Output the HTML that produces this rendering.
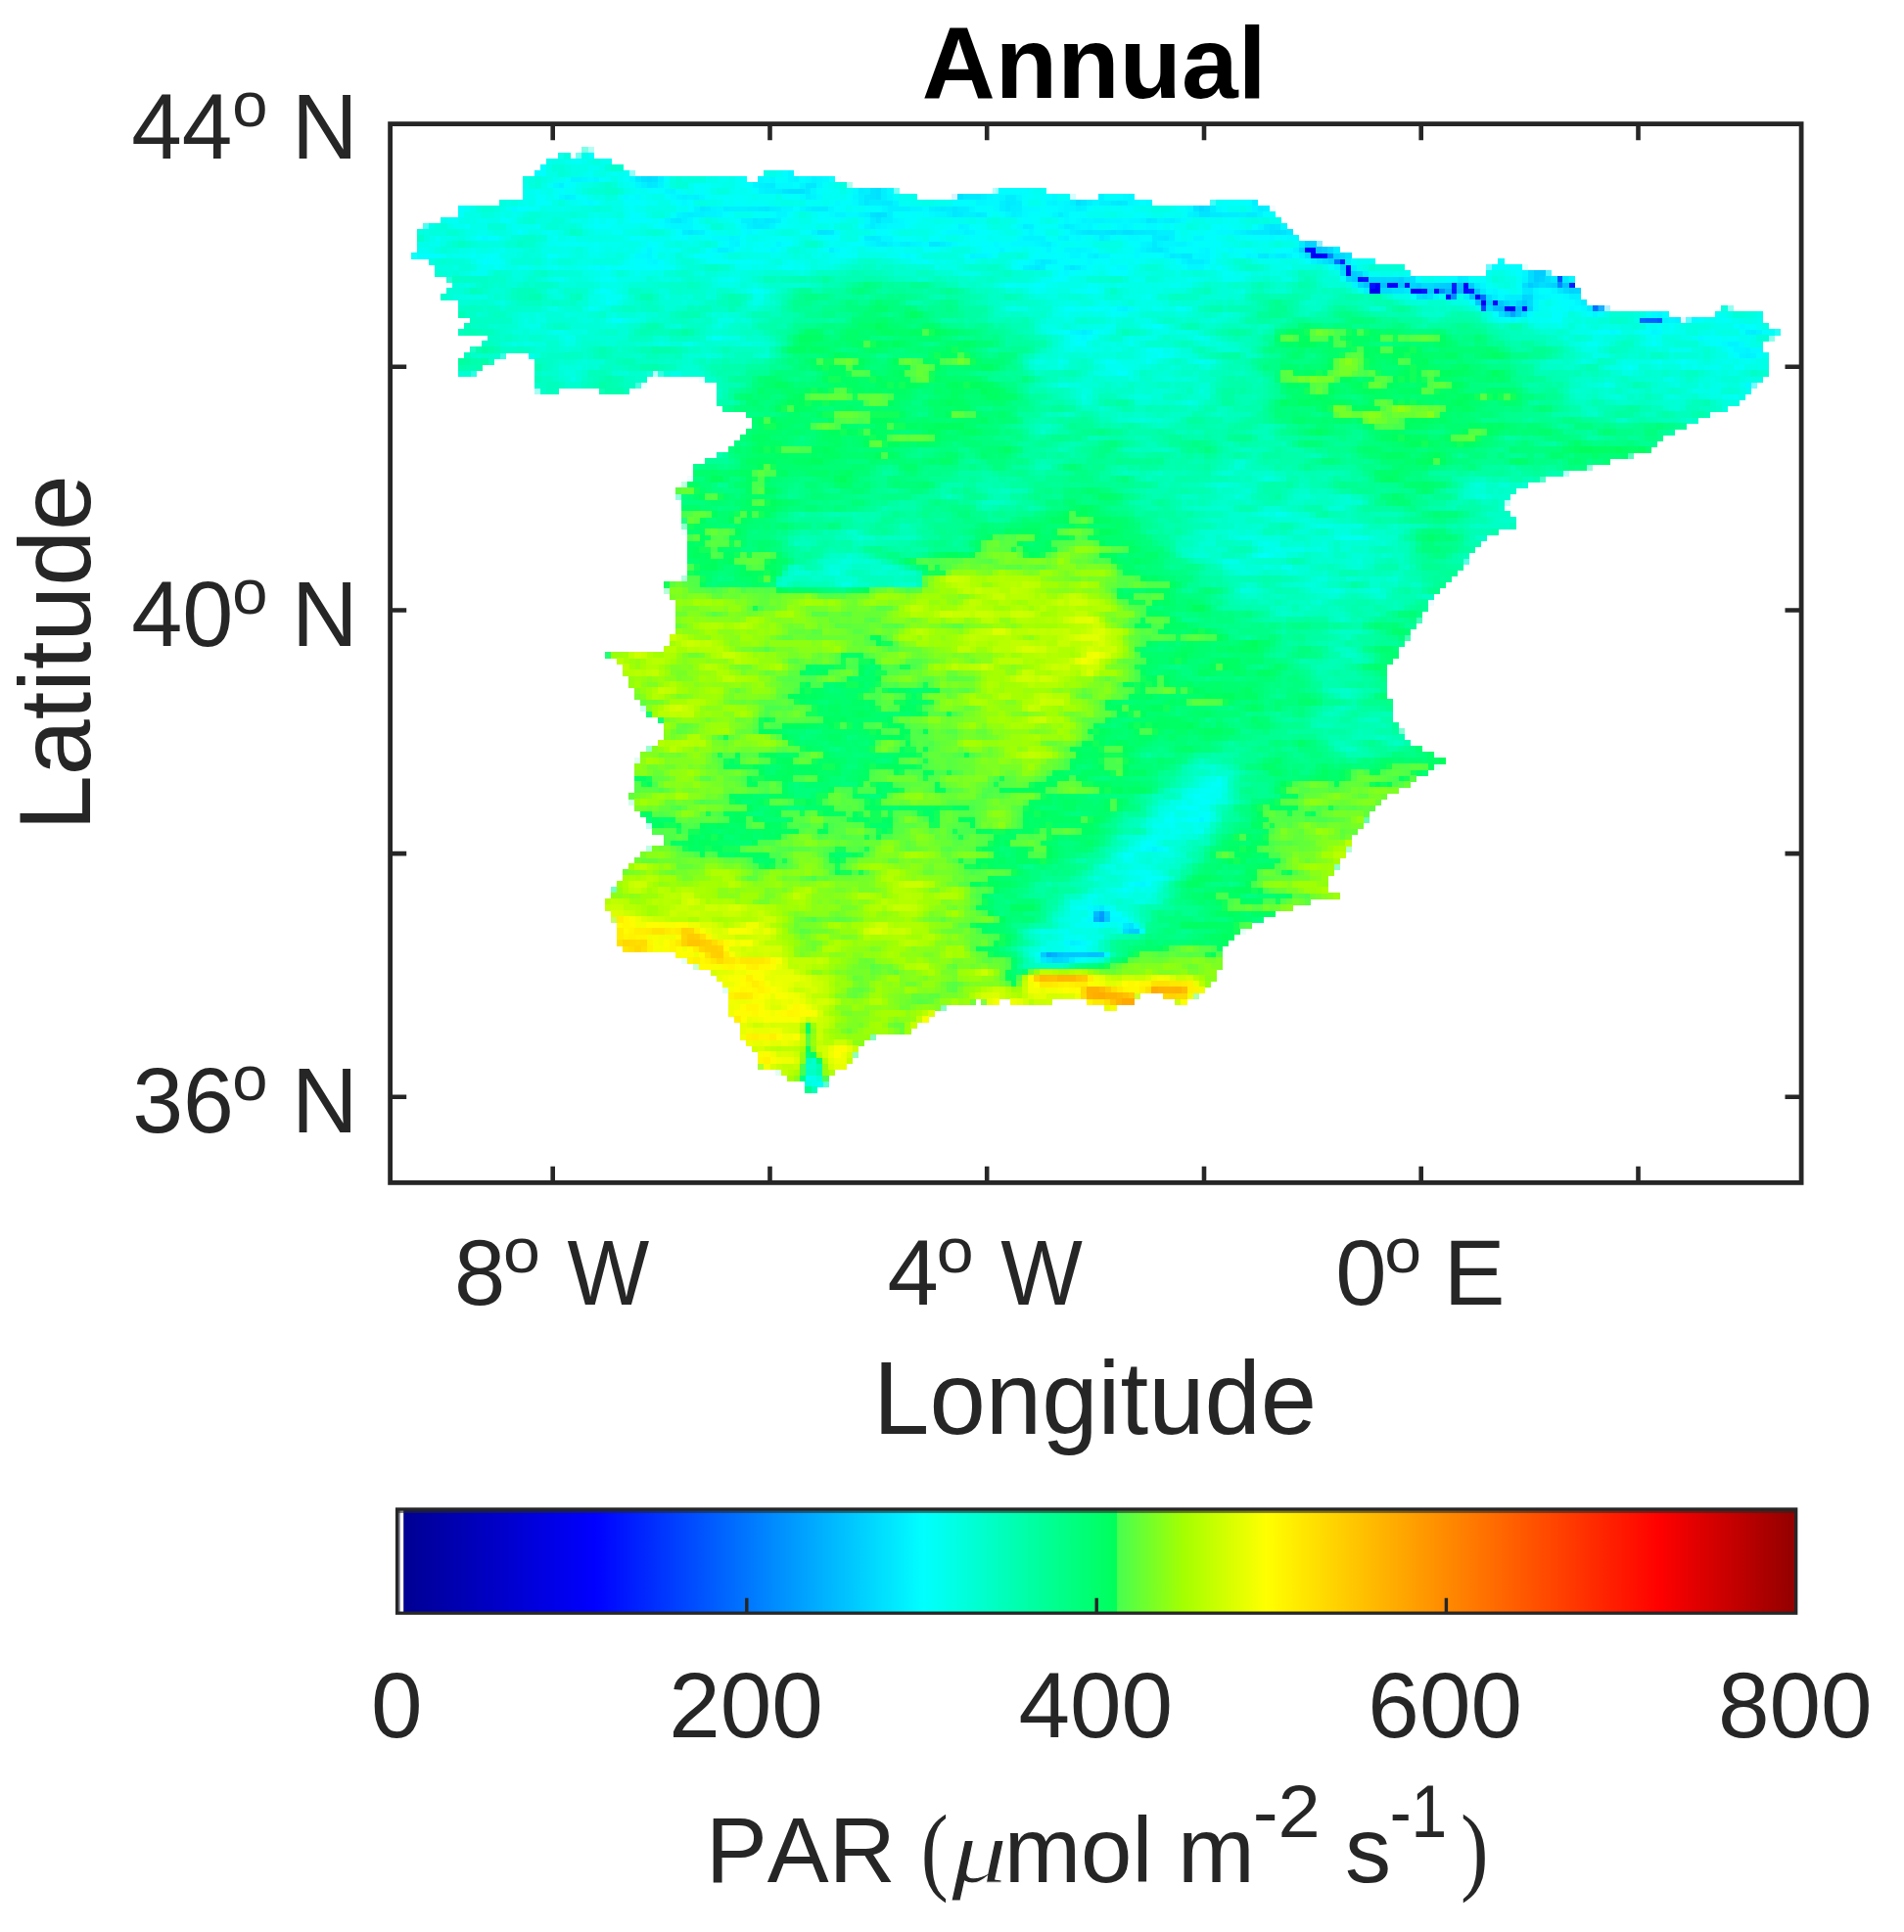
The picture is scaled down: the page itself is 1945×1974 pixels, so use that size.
<!DOCTYPE html>
<html lang="en"><head><meta charset="utf-8"><title>Annual PAR</title>
<style>html,body{margin:0;padding:0;background:#fff}body{width:1945px;height:1974px;overflow:hidden}svg{display:block}text{font-family:"Liberation Sans",Arial,Helvetica,sans-serif;fill:#262626;font-kerning:none}</style></head><body>
<svg width="1945" height="1974" viewBox="0 0 1945 1974">
<defs>
<clipPath id="land"><path d="M423.0,263.0 426.0,240.0 436.0,231.0 465.0,221.0 473.0,210.0 509.0,210.0 515.0,205.0 533.0,202.0 533.0,184.0 546.0,181.0 559.0,163.0 578.0,158.0 588.0,163.0 599.0,152.0 607.0,155.0 609.0,163.0 625.0,165.0 638.0,173.0 651.0,181.0 756.0,181.0 772.0,186.0 777.0,179.0 798.0,173.0 817.0,179.0 856.0,184.0 861.0,189.0 909.0,194.0 930.0,199.0 945.0,207.0 992.0,199.0 1045.0,192.0 1061.0,190.0 1076.0,199.0 1118.0,205.0 1126.0,199.0 1150.0,199.0 1176.0,206.0 1184.0,213.0 1229.0,213.0 1244.0,205.0 1281.0,206.0 1302.0,215.0 1307.0,226.0 1318.0,236.0 1328.0,247.0 1365.0,252.0 1381.0,263.0 1407.0,268.0 1433.0,273.0 1449.0,284.0 1517.0,284.0 1523.0,270.0 1533.0,267.0 1554.0,273.0 1575.0,278.0 1609.0,286.0 1615.0,305.0 1628.0,315.0 1680.0,318.0 1701.0,318.0 1717.0,328.0 1749.0,326.0 1759.0,315.0 1801.0,318.0 1804.0,334.0 1817.0,336.0 1814.0,344.0 1798.0,349.0 1806.0,368.0 1806.0,383.0 1793.0,391.0 1785.0,404.0 1772.0,415.0 1756.0,420.0 1733.0,431.0 1717.0,439.0 1701.0,446.0 1686.0,462.0 1657.0,467.0 1633.0,475.0 1609.0,481.0 1580.0,488.0 1557.0,496.0 1544.0,504.0 1536.0,520.0 1544.0,530.0 1554.0,536.0 1533.0,541.0 1515.0,551.0 1502.0,567.0 1491.0,583.0 1475.0,599.0 1462.0,614.0 1452.0,630.0 1441.0,646.0 1428.0,667.0 1415.0,684.0 1415.0,700.0 1420.0,718.0 1423.0,734.0 1433.0,750.0 1444.0,763.0 1462.0,768.0 1476.5,778.6 1462.0,786.0 1449.0,794.0 1439.0,805.0 1418.0,810.0 1407.0,820.6 1397.0,831.0 1394.0,844.0 1381.0,855.0 1375.7,873.0 1365.0,886.0 1357.0,899.0 1357.0,910.0 1370.0,912.5 1368.0,920.0 1344.0,918.0 1328.0,925.6 1302.0,933.5 1281.0,944.0 1260.0,957.0 1250.0,968.0 1244.0,999.0 1231.0,1010.0 1218.0,1020.0 1207.6,1030.7 1203.0,1023.0 1182.0,1015.0 1161.0,1017.5 1156.0,1028.0 1140.0,1028.0 1132.5,1035.0 1130.0,1028.0 1109.0,1023.0 1082.6,1020.0 1067.0,1028.0 1056.0,1023.0 1040.5,1028.0 1027.0,1020.0 1014.0,1028.0 998.5,1020.0 988.0,1028.0 972.0,1025.0 956.5,1033.0 941.0,1046.0 925.0,1056.0 904.0,1054.0 885.6,1062.0 875.0,1075.0 864.6,1091.0 849.0,1096.0 849.0,1107.0 838.0,1108.0 836.0,1114.0 825.0,1114.0 820.0,1107.0 804.0,1104.0 799.0,1096.0 778.0,1091.0 770.0,1073.0 759.5,1062.0 757.0,1046.0 744.0,1036.0 744.0,1015.0 736.0,1002.0 725.0,991.0 707.0,986.0 691.0,975.5 673.0,970.0 647.0,970.0 636.0,973.0 631.0,962.0 631.0,944.0 621.0,931.0 621.0,918.0 631.0,905.0 641.0,886.0 649.0,876.0 662.0,868.0 678.0,865.0 678.0,852.0 665.0,849.0 662.0,836.0 647.0,826.0 644.0,810.0 651.0,802.0 651.0,779.0 657.0,768.0 668.0,764.0 676.0,755.0 678.0,737.0 662.0,729.0 652.0,716.0 641.0,695.0 631.0,674.0 620.0,669.0 678.0,668.0 689.0,645.0 693.0,620.0 683.0,609.0 680.0,596.0 699.0,593.0 704.0,583.0 701.0,567.0 699.0,525.0 691.0,499.0 704.0,494.0 712.0,475.0 733.0,467.0 746.0,457.0 756.0,446.0 769.0,436.0 762.0,420.0 741.0,418.0 733.0,410.0 733.0,391.0 701.0,383.0 664.0,381.0 659.0,393.0 646.0,394.0 643.0,402.0 617.0,402.0 612.0,395.0 572.0,394.0 567.0,402.0 551.0,402.0 544.0,389.0 549.0,378.0 541.0,362.0 517.0,362.0 504.0,368.0 486.0,381.0 467.0,386.0 467.0,370.0 478.0,362.0 499.0,344.0 467.0,341.0 483.0,328.0 467.0,320.0 470.0,307.0 446.0,305.0 457.0,299.0 462.0,286.0 446.0,284.0 439.0,265.0Z"/></clipPath>
<filter id="b1" filterUnits="userSpaceOnUse" x="380" y="110" width="1480" height="1110" color-interpolation-filters="sRGB"><feGaussianBlur stdDeviation="28"/></filter>
<filter id="b2" filterUnits="userSpaceOnUse" x="380" y="110" width="1480" height="1110" color-interpolation-filters="sRGB"><feGaussianBlur stdDeviation="14"/></filter>
<filter id="b3" filterUnits="userSpaceOnUse" x="380" y="110" width="1480" height="1110" color-interpolation-filters="sRGB"><feGaussianBlur stdDeviation="5"/></filter>
<filter id="b4" filterUnits="userSpaceOnUse" x="380" y="110" width="1480" height="1110" color-interpolation-filters="sRGB"><feGaussianBlur stdDeviation="2.5"/></filter>
<filter id="cmap" filterUnits="userSpaceOnUse" x="384" y="114" width="1476" height="1104" color-interpolation-filters="sRGB"><feTurbulence type="fractalNoise" baseFrequency="0.025 0.09" numOctaves="3" seed="3" result="t"/><feColorMatrix in="t" type="matrix" values="1 0 0 0 0 1 0 0 0 0 1 0 0 0 0 0 0 0 0 1" result="n"/><feComposite in="SourceGraphic" in2="n" operator="arithmetic" k1="0" k2="1" k3="0.13" k4="-0.065" result="f0"/><feComposite in="f0" in2="SourceGraphic" operator="in" result="f"/><feFlood x="387" y="117" width="1" height="1" flood-color="#000" result="d"/><feComposite in="d" in2="d" operator="over" x="384" y="114" width="6" height="6" result="cell"/><feTile in="cell" result="grid"/><feComposite in="f" in2="grid" operator="in" result="samp"/><feMorphology in="samp" operator="dilate" radius="3" result="pix"/><feComponentTransfer in="pix"><feFuncR type="table" tableValues="0 0 0 0 0 0 0 0 0 0 0 0 0 0 0 0 0 0 0 0 0 0 0 0 0 0 0 0 0 0 0 0 0 0 0 0 0 0 0 0 0 0 0 0 0 0 0 0 0 0 0 0 0 0 0 0 0 0 0 0 0 0 0 0 0 0 0 0 0 0 0 0 0 0 0 0 0 0 0 0 0 0 0 0 0 0 0 0 0 0 0 0 0 0 0 0 0 0 0 0 0 0 0 0 0 0 0 0 0 0 0 0 0 0 0 0 0 0 0 0 0 0 0 0 0 0.278 0.307 0.332 0.356 0.38 0.405 0.429 0.453 0.477 0.502 0.526 0.55 0.574 0.599 0.623 0.647 0.666 0.685 0.703 0.722 0.741 0.76 0.778 0.797 0.816 0.835 0.854 0.872 0.891 0.91 0.929 0.947 0.966 0.985 1 1 1 1 1 1 1 1 1 1 1 1 1 1 1 1 1 1 1 1 1 1 1 1 1 1 1 1 1 1 1 1 1 1 1 1 1 1 1 1 1 1 1 1 1 1 1 1 1 1 1 1 1 1 1 1 1 1 1 1 1 1 1 1 1 1 1 1 1 1 1 1 1 1 1 1 1 1 1 1 1 1"/><feFuncG type="table" tableValues="0 0 0 0 0 0 0.011 0.024 0.037 0.051 0.064 0.077 0.09 0.104 0.117 0.13 0.144 0.157 0.17 0.184 0.197 0.21 0.223 0.237 0.25 0.263 0.277 0.29 0.303 0.316 0.33 0.343 0.356 0.37 0.383 0.396 0.41 0.423 0.436 0.449 0.463 0.476 0.489 0.503 0.516 0.529 0.543 0.556 0.569 0.582 0.596 0.609 0.622 0.636 0.649 0.662 0.676 0.689 0.702 0.715 0.729 0.742 0.755 0.769 0.782 0.795 0.809 0.822 0.835 0.848 0.862 0.875 0.888 0.902 0.915 0.928 0.941 0.955 0.968 0.981 0.995 1 1 1 1 1 1 1 1 1 1 1 1 1 1 1 1 1 1 1 1 1 1 1 1 1 1 1 1 1 1 1 1 1 1 1 1 1 1 1 1 1 1 1 1 1 1 1 1 1 1 1 1 1 1 1 1 1 1 1 1 1 1 1 1 1 1 1 1 1 1 1 1 1 1 1 1 1 1 0.998 0.987 0.976 0.964 0.953 0.942 0.931 0.92 0.909 0.898 0.887 0.876 0.864 0.853 0.842 0.831 0.82 0.809 0.798 0.787 0.776 0.764 0.753 0.742 0.731 0.72 0.709 0.698 0.687 0.676 0.664 0.653 0.642 0.631 0.62 0.609 0.598 0.587 0.576 0.564 0.553 0.542 0.531 0.52 0.509 0.498 0.487 0.476 0.464 0.453 0.442 0.431 0.42 0.409 0.398 0.387 0.376 0.364 0.353 0.342 0.331 0.32 0.309 0.298 0.287 0.276 0.264 0.253 0.242 0.231 0.22 0.209 0.198 0.187 0.176 0.164 0.153 0.142 0.131 0.12 0.109 0.098"/><feFuncB type="table" tableValues="0.949 0.959 0.969 0.979 0.988 0.998 1 1 1 1 1 1 1 1 1 1 1 1 1 1 1 1 1 1 1 1 1 1 1 1 1 1 1 1 1 1 1 1 1 1 1 1 1 1 1 1 1 1 1 1 1 1 1 1 1 1 1 1 1 1 1 1 1 1 1 1 1 1 1 1 1 1 1 1 1 1 1 1 1 1 1 0.991 0.977 0.962 0.947 0.933 0.918 0.903 0.889 0.874 0.859 0.845 0.83 0.816 0.801 0.786 0.772 0.757 0.742 0.728 0.713 0.698 0.684 0.669 0.655 0.64 0.625 0.611 0.596 0.581 0.567 0.552 0.537 0.523 0.508 0.493 0.479 0.464 0.45 0.435 0.42 0.406 0.391 0.376 0.362 0.31 0.286 0.266 0.245 0.225 0.204 0.184 0.163 0.143 0.123 0.102 0.082 0.061 0.041 0.02 0 0 0 0 0 0 0 0 0 0 0 0 0 0 0 0 0 0 0 0 0 0 0 0 0 0 0 0 0 0 0 0 0 0 0 0 0 0 0 0 0 0 0 0 0 0 0 0 0 0 0 0 0 0 0 0 0 0 0 0 0 0 0 0 0 0 0 0 0 0 0 0 0 0 0 0 0 0 0 0 0 0 0 0 0 0 0 0 0 0 0 0 0 0 0 0 0 0 0 0 0"/></feComponentTransfer></filter>
<filter id="gb" x="-5%" y="-5%" width="110%" height="110%" color-interpolation-filters="sRGB"><feGaussianBlur stdDeviation="16"/></filter>
<linearGradient id="jet" x1="0" x2="1" y1="0" y2="0">
<stop offset="0.0000" stop-color="#00008f"/>
<stop offset="0.1412" stop-color="#0000ff"/>
<stop offset="0.3762" stop-color="#00ffff"/>
<stop offset="0.5144" stop-color="#00ff5a"/>
<stop offset="0.5145" stop-color="#46ff50"/>
<stop offset="0.5625" stop-color="#a5ff00"/>
<stop offset="0.6212" stop-color="#ffff00"/>
<stop offset="0.9025" stop-color="#ff0000"/>
<stop offset="1.0000" stop-color="#920000"/>
</linearGradient>
</defs>
<rect width="1945" height="1974" fill="#fff"/>
<g filter="url(#cmap)"><g clip-path="url(#land)">
<rect x="380" y="110" width="1480" height="1110" fill="#777777"/>
<g filter="url(#gb)">
<rect x="399.5" y="129.5" width="51" height="51" fill="#5c5c5c"/>
<rect x="449.5" y="129.5" width="51" height="51" fill="#5c5c5c"/>
<rect x="499.5" y="129.5" width="51" height="51" fill="#5b5b5b"/>
<rect x="549.5" y="129.5" width="51" height="51" fill="#5a5a5a"/>
<rect x="599.5" y="129.5" width="51" height="51" fill="#595959"/>
<rect x="649.5" y="129.5" width="51" height="51" fill="#595959"/>
<rect x="699.5" y="129.5" width="51" height="51" fill="#585858"/>
<rect x="749.5" y="129.5" width="51" height="51" fill="#575757"/>
<rect x="799.5" y="129.5" width="51" height="51" fill="#565656"/>
<rect x="849.5" y="129.5" width="51" height="51" fill="#555555"/>
<rect x="899.5" y="129.5" width="51" height="51" fill="#555555"/>
<rect x="949.5" y="129.5" width="51" height="51" fill="#555555"/>
<rect x="999.5" y="129.5" width="51" height="51" fill="#545454"/>
<rect x="1049.5" y="129.5" width="51" height="51" fill="#545454"/>
<rect x="1099.5" y="129.5" width="51" height="51" fill="#545454"/>
<rect x="1149.5" y="129.5" width="51" height="51" fill="#545454"/>
<rect x="1199.5" y="129.5" width="51" height="51" fill="#545454"/>
<rect x="1249.5" y="129.5" width="51" height="51" fill="#545454"/>
<rect x="1299.5" y="129.5" width="51" height="51" fill="#555555"/>
<rect x="1349.5" y="129.5" width="51" height="51" fill="#535353"/>
<rect x="399.5" y="179.5" width="51" height="51" fill="#5c5c5c"/>
<rect x="449.5" y="179.5" width="51" height="51" fill="#5d5d5d"/>
<rect x="499.5" y="179.5" width="51" height="51" fill="#5b5b5b"/>
<rect x="549.5" y="179.5" width="51" height="51" fill="#5a5a5a"/>
<rect x="599.5" y="179.5" width="51" height="51" fill="#595959"/>
<rect x="649.5" y="179.5" width="51" height="51" fill="#585858"/>
<rect x="699.5" y="179.5" width="51" height="51" fill="#575757"/>
<rect x="749.5" y="179.5" width="51" height="51" fill="#565656"/>
<rect x="799.5" y="179.5" width="51" height="51" fill="#555555"/>
<rect x="849.5" y="179.5" width="51" height="51" fill="#545454"/>
<rect x="899.5" y="179.5" width="51" height="51" fill="#555555"/>
<rect x="949.5" y="179.5" width="51" height="51" fill="#545454"/>
<rect x="999.5" y="179.5" width="51" height="51" fill="#535353"/>
<rect x="1049.5" y="179.5" width="51" height="51" fill="#545454"/>
<rect x="1099.5" y="179.5" width="51" height="51" fill="#545454"/>
<rect x="1149.5" y="179.5" width="51" height="51" fill="#545454"/>
<rect x="1199.5" y="179.5" width="51" height="51" fill="#545454"/>
<rect x="1249.5" y="179.5" width="51" height="51" fill="#545454"/>
<rect x="1299.5" y="179.5" width="51" height="51" fill="#555555"/>
<rect x="1349.5" y="179.5" width="51" height="51" fill="#535353"/>
<rect x="1399.5" y="179.5" width="51" height="51" fill="#595959"/>
<rect x="1449.5" y="179.5" width="51" height="51" fill="#575757"/>
<rect x="1499.5" y="179.5" width="51" height="51" fill="#585858"/>
<rect x="1549.5" y="179.5" width="51" height="51" fill="#525252"/>
<rect x="1599.5" y="179.5" width="51" height="51" fill="#535353"/>
<rect x="399.5" y="229.5" width="51" height="51" fill="#5c5c5c"/>
<rect x="449.5" y="229.5" width="51" height="51" fill="#5a5a5a"/>
<rect x="499.5" y="229.5" width="51" height="51" fill="#5d5d5d"/>
<rect x="549.5" y="229.5" width="51" height="51" fill="#5c5c5c"/>
<rect x="599.5" y="229.5" width="51" height="51" fill="#5b5b5b"/>
<rect x="649.5" y="229.5" width="51" height="51" fill="#595959"/>
<rect x="699.5" y="229.5" width="51" height="51" fill="#585858"/>
<rect x="749.5" y="229.5" width="51" height="51" fill="#575757"/>
<rect x="799.5" y="229.5" width="51" height="51" fill="#575757"/>
<rect x="849.5" y="229.5" width="51" height="51" fill="#595959"/>
<rect x="899.5" y="229.5" width="51" height="51" fill="#555555"/>
<rect x="949.5" y="229.5" width="51" height="51" fill="#575757"/>
<rect x="999.5" y="229.5" width="51" height="51" fill="#575757"/>
<rect x="1049.5" y="229.5" width="51" height="51" fill="#565656"/>
<rect x="1099.5" y="229.5" width="51" height="51" fill="#555555"/>
<rect x="1149.5" y="229.5" width="51" height="51" fill="#545454"/>
<rect x="1199.5" y="229.5" width="51" height="51" fill="#555555"/>
<rect x="1249.5" y="229.5" width="51" height="51" fill="#575757"/>
<rect x="1299.5" y="229.5" width="51" height="51" fill="#555555"/>
<rect x="1349.5" y="229.5" width="51" height="51" fill="#515151"/>
<rect x="1399.5" y="229.5" width="51" height="51" fill="#595959"/>
<rect x="1449.5" y="229.5" width="51" height="51" fill="#606060"/>
<rect x="1499.5" y="229.5" width="51" height="51" fill="#585858"/>
<rect x="1549.5" y="229.5" width="51" height="51" fill="#525252"/>
<rect x="1599.5" y="229.5" width="51" height="51" fill="#535353"/>
<rect x="1649.5" y="229.5" width="51" height="51" fill="#595959"/>
<rect x="1699.5" y="229.5" width="51" height="51" fill="#585858"/>
<rect x="1749.5" y="229.5" width="51" height="51" fill="#5a5a5a"/>
<rect x="399.5" y="279.5" width="51" height="51" fill="#606060"/>
<rect x="449.5" y="279.5" width="51" height="51" fill="#646464"/>
<rect x="499.5" y="279.5" width="51" height="51" fill="#626262"/>
<rect x="549.5" y="279.5" width="51" height="51" fill="#606060"/>
<rect x="599.5" y="279.5" width="51" height="51" fill="#5e5e5e"/>
<rect x="649.5" y="279.5" width="51" height="51" fill="#606060"/>
<rect x="699.5" y="279.5" width="51" height="51" fill="#686868"/>
<rect x="749.5" y="279.5" width="51" height="51" fill="#626262"/>
<rect x="799.5" y="279.5" width="51" height="51" fill="#6f6f6f"/>
<rect x="849.5" y="279.5" width="51" height="51" fill="#797979"/>
<rect x="899.5" y="279.5" width="51" height="51" fill="#767676"/>
<rect x="949.5" y="279.5" width="51" height="51" fill="#6e6e6e"/>
<rect x="999.5" y="279.5" width="51" height="51" fill="#646464"/>
<rect x="1049.5" y="279.5" width="51" height="51" fill="#5b5b5b"/>
<rect x="1099.5" y="279.5" width="51" height="51" fill="#5b5b5b"/>
<rect x="1149.5" y="279.5" width="51" height="51" fill="#5e5e5e"/>
<rect x="1199.5" y="279.5" width="51" height="51" fill="#626262"/>
<rect x="1249.5" y="279.5" width="51" height="51" fill="#6a6a6a"/>
<rect x="1299.5" y="279.5" width="51" height="51" fill="#6a6a6a"/>
<rect x="1349.5" y="279.5" width="51" height="51" fill="#686868"/>
<rect x="1399.5" y="279.5" width="51" height="51" fill="#626262"/>
<rect x="1449.5" y="279.5" width="51" height="51" fill="#5e5e5e"/>
<rect x="1499.5" y="279.5" width="51" height="51" fill="#535353"/>
<rect x="1549.5" y="279.5" width="51" height="51" fill="#515151"/>
<rect x="1599.5" y="279.5" width="51" height="51" fill="#555555"/>
<rect x="1649.5" y="279.5" width="51" height="51" fill="#595959"/>
<rect x="1699.5" y="279.5" width="51" height="51" fill="#5c5c5c"/>
<rect x="1749.5" y="279.5" width="51" height="51" fill="#5a5a5a"/>
<rect x="1799.5" y="279.5" width="51" height="51" fill="#5a5a5a"/>
<rect x="399.5" y="329.5" width="51" height="51" fill="#676767"/>
<rect x="449.5" y="329.5" width="51" height="51" fill="#6a6a6a"/>
<rect x="499.5" y="329.5" width="51" height="51" fill="#646464"/>
<rect x="549.5" y="329.5" width="51" height="51" fill="#606060"/>
<rect x="599.5" y="329.5" width="51" height="51" fill="#626262"/>
<rect x="649.5" y="329.5" width="51" height="51" fill="#666666"/>
<rect x="699.5" y="329.5" width="51" height="51" fill="#626262"/>
<rect x="749.5" y="329.5" width="51" height="51" fill="#646464"/>
<rect x="799.5" y="329.5" width="51" height="51" fill="#7d7d7d"/>
<rect x="849.5" y="329.5" width="51" height="51" fill="#808080"/>
<rect x="899.5" y="329.5" width="51" height="51" fill="#808080"/>
<rect x="949.5" y="329.5" width="51" height="51" fill="#808080"/>
<rect x="999.5" y="329.5" width="51" height="51" fill="#767676"/>
<rect x="1049.5" y="329.5" width="51" height="51" fill="#5e5e5e"/>
<rect x="1099.5" y="329.5" width="51" height="51" fill="#5b5b5b"/>
<rect x="1149.5" y="329.5" width="51" height="51" fill="#5d5d5d"/>
<rect x="1199.5" y="329.5" width="51" height="51" fill="#626262"/>
<rect x="1249.5" y="329.5" width="51" height="51" fill="#686868"/>
<rect x="1299.5" y="329.5" width="51" height="51" fill="#808080"/>
<rect x="1349.5" y="329.5" width="51" height="51" fill="#828282"/>
<rect x="1399.5" y="329.5" width="51" height="51" fill="#828282"/>
<rect x="1449.5" y="329.5" width="51" height="51" fill="#808080"/>
<rect x="1499.5" y="329.5" width="51" height="51" fill="#7a7a7a"/>
<rect x="1549.5" y="329.5" width="51" height="51" fill="#6c6c6c"/>
<rect x="1599.5" y="329.5" width="51" height="51" fill="#606060"/>
<rect x="1649.5" y="329.5" width="51" height="51" fill="#5e5e5e"/>
<rect x="1699.5" y="329.5" width="51" height="51" fill="#5a5a5a"/>
<rect x="1749.5" y="329.5" width="51" height="51" fill="#595959"/>
<rect x="1799.5" y="329.5" width="51" height="51" fill="#5b5b5b"/>
<rect x="399.5" y="379.5" width="51" height="51" fill="#676767"/>
<rect x="449.5" y="379.5" width="51" height="51" fill="#676767"/>
<rect x="499.5" y="379.5" width="51" height="51" fill="#666666"/>
<rect x="549.5" y="379.5" width="51" height="51" fill="#686868"/>
<rect x="599.5" y="379.5" width="51" height="51" fill="#6a6a6a"/>
<rect x="649.5" y="379.5" width="51" height="51" fill="#686868"/>
<rect x="699.5" y="379.5" width="51" height="51" fill="#666666"/>
<rect x="749.5" y="379.5" width="51" height="51" fill="#7d7d7d"/>
<rect x="799.5" y="379.5" width="51" height="51" fill="#818181"/>
<rect x="849.5" y="379.5" width="51" height="51" fill="#828282"/>
<rect x="899.5" y="379.5" width="51" height="51" fill="#818181"/>
<rect x="949.5" y="379.5" width="51" height="51" fill="#808080"/>
<rect x="999.5" y="379.5" width="51" height="51" fill="#7c7c7c"/>
<rect x="1049.5" y="379.5" width="51" height="51" fill="#6a6a6a"/>
<rect x="1099.5" y="379.5" width="51" height="51" fill="#646464"/>
<rect x="1149.5" y="379.5" width="51" height="51" fill="#626262"/>
<rect x="1199.5" y="379.5" width="51" height="51" fill="#646464"/>
<rect x="1249.5" y="379.5" width="51" height="51" fill="#6a6a6a"/>
<rect x="1299.5" y="379.5" width="51" height="51" fill="#808080"/>
<rect x="1349.5" y="379.5" width="51" height="51" fill="#848484"/>
<rect x="1399.5" y="379.5" width="51" height="51" fill="#828282"/>
<rect x="1449.5" y="379.5" width="51" height="51" fill="#808080"/>
<rect x="1499.5" y="379.5" width="51" height="51" fill="#7d7d7d"/>
<rect x="1549.5" y="379.5" width="51" height="51" fill="#727272"/>
<rect x="1599.5" y="379.5" width="51" height="51" fill="#626262"/>
<rect x="1649.5" y="379.5" width="51" height="51" fill="#646464"/>
<rect x="1699.5" y="379.5" width="51" height="51" fill="#626262"/>
<rect x="1749.5" y="379.5" width="51" height="51" fill="#5e5e5e"/>
<rect x="1799.5" y="379.5" width="51" height="51" fill="#5b5b5b"/>
<rect x="449.5" y="429.5" width="51" height="51" fill="#676767"/>
<rect x="499.5" y="429.5" width="51" height="51" fill="#666666"/>
<rect x="549.5" y="429.5" width="51" height="51" fill="#696969"/>
<rect x="599.5" y="429.5" width="51" height="51" fill="#696969"/>
<rect x="649.5" y="429.5" width="51" height="51" fill="#686868"/>
<rect x="699.5" y="429.5" width="51" height="51" fill="#737373"/>
<rect x="749.5" y="429.5" width="51" height="51" fill="#808080"/>
<rect x="799.5" y="429.5" width="51" height="51" fill="#828282"/>
<rect x="849.5" y="429.5" width="51" height="51" fill="#808080"/>
<rect x="899.5" y="429.5" width="51" height="51" fill="#808080"/>
<rect x="949.5" y="429.5" width="51" height="51" fill="#7e7e7e"/>
<rect x="999.5" y="429.5" width="51" height="51" fill="#797979"/>
<rect x="1049.5" y="429.5" width="51" height="51" fill="#6e6e6e"/>
<rect x="1099.5" y="429.5" width="51" height="51" fill="#737373"/>
<rect x="1149.5" y="429.5" width="51" height="51" fill="#6a6a6a"/>
<rect x="1199.5" y="429.5" width="51" height="51" fill="#737373"/>
<rect x="1249.5" y="429.5" width="51" height="51" fill="#6a6a6a"/>
<rect x="1299.5" y="429.5" width="51" height="51" fill="#717171"/>
<rect x="1349.5" y="429.5" width="51" height="51" fill="#797979"/>
<rect x="1399.5" y="429.5" width="51" height="51" fill="#808080"/>
<rect x="1449.5" y="429.5" width="51" height="51" fill="#7e7e7e"/>
<rect x="1499.5" y="429.5" width="51" height="51" fill="#7d7d7d"/>
<rect x="1549.5" y="429.5" width="51" height="51" fill="#7a7a7a"/>
<rect x="1599.5" y="429.5" width="51" height="51" fill="#7c7c7c"/>
<rect x="1649.5" y="429.5" width="51" height="51" fill="#7d7d7d"/>
<rect x="1699.5" y="429.5" width="51" height="51" fill="#707070"/>
<rect x="1749.5" y="429.5" width="51" height="51" fill="#606060"/>
<rect x="1799.5" y="429.5" width="51" height="51" fill="#5b5b5b"/>
<rect x="549.5" y="479.5" width="51" height="51" fill="#696969"/>
<rect x="599.5" y="479.5" width="51" height="51" fill="#757575"/>
<rect x="649.5" y="479.5" width="51" height="51" fill="#818181"/>
<rect x="699.5" y="479.5" width="51" height="51" fill="#808080"/>
<rect x="749.5" y="479.5" width="51" height="51" fill="#7e7e7e"/>
<rect x="799.5" y="479.5" width="51" height="51" fill="#7a7a7a"/>
<rect x="849.5" y="479.5" width="51" height="51" fill="#797979"/>
<rect x="899.5" y="479.5" width="51" height="51" fill="#747474"/>
<rect x="949.5" y="479.5" width="51" height="51" fill="#6e6e6e"/>
<rect x="999.5" y="479.5" width="51" height="51" fill="#686868"/>
<rect x="1049.5" y="479.5" width="51" height="51" fill="#757575"/>
<rect x="1099.5" y="479.5" width="51" height="51" fill="#797979"/>
<rect x="1149.5" y="479.5" width="51" height="51" fill="#6c6c6c"/>
<rect x="1199.5" y="479.5" width="51" height="51" fill="#686868"/>
<rect x="1249.5" y="479.5" width="51" height="51" fill="#666666"/>
<rect x="1299.5" y="479.5" width="51" height="51" fill="#666666"/>
<rect x="1349.5" y="479.5" width="51" height="51" fill="#686868"/>
<rect x="1399.5" y="479.5" width="51" height="51" fill="#797979"/>
<rect x="1449.5" y="479.5" width="51" height="51" fill="#717171"/>
<rect x="1499.5" y="479.5" width="51" height="51" fill="#5e5e5e"/>
<rect x="1549.5" y="479.5" width="51" height="51" fill="#6c6c6c"/>
<rect x="1599.5" y="479.5" width="51" height="51" fill="#7b7b7b"/>
<rect x="1649.5" y="479.5" width="51" height="51" fill="#7d7d7d"/>
<rect x="1699.5" y="479.5" width="51" height="51" fill="#707070"/>
<rect x="1749.5" y="479.5" width="51" height="51" fill="#606060"/>
<rect x="599.5" y="529.5" width="51" height="51" fill="#858585"/>
<rect x="649.5" y="529.5" width="51" height="51" fill="#858585"/>
<rect x="699.5" y="529.5" width="51" height="51" fill="#828282"/>
<rect x="749.5" y="529.5" width="51" height="51" fill="#7e7e7e"/>
<rect x="799.5" y="529.5" width="51" height="51" fill="#6d6d6d"/>
<rect x="849.5" y="529.5" width="51" height="51" fill="#626262"/>
<rect x="899.5" y="529.5" width="51" height="51" fill="#6a6a6a"/>
<rect x="949.5" y="529.5" width="51" height="51" fill="#797979"/>
<rect x="999.5" y="529.5" width="51" height="51" fill="#858585"/>
<rect x="1049.5" y="529.5" width="51" height="51" fill="#858585"/>
<rect x="1099.5" y="529.5" width="51" height="51" fill="#868686"/>
<rect x="1149.5" y="529.5" width="51" height="51" fill="#797979"/>
<rect x="1199.5" y="529.5" width="51" height="51" fill="#626262"/>
<rect x="1249.5" y="529.5" width="51" height="51" fill="#606060"/>
<rect x="1299.5" y="529.5" width="51" height="51" fill="#626262"/>
<rect x="1349.5" y="529.5" width="51" height="51" fill="#606060"/>
<rect x="1399.5" y="529.5" width="51" height="51" fill="#646464"/>
<rect x="1449.5" y="529.5" width="51" height="51" fill="#797979"/>
<rect x="1499.5" y="529.5" width="51" height="51" fill="#6b6b6b"/>
<rect x="1549.5" y="529.5" width="51" height="51" fill="#6c6c6c"/>
<rect x="1599.5" y="529.5" width="51" height="51" fill="#7b7b7b"/>
<rect x="1649.5" y="529.5" width="51" height="51" fill="#7d7d7d"/>
<rect x="549.5" y="579.5" width="51" height="51" fill="#909090"/>
<rect x="599.5" y="579.5" width="51" height="51" fill="#909090"/>
<rect x="649.5" y="579.5" width="51" height="51" fill="#898989"/>
<rect x="699.5" y="579.5" width="51" height="51" fill="#8e8e8e"/>
<rect x="749.5" y="579.5" width="51" height="51" fill="#8b8b8b"/>
<rect x="799.5" y="579.5" width="51" height="51" fill="#8b8b8b"/>
<rect x="849.5" y="579.5" width="51" height="51" fill="#8b8b8b"/>
<rect x="899.5" y="579.5" width="51" height="51" fill="#929292"/>
<rect x="949.5" y="579.5" width="51" height="51" fill="#989898"/>
<rect x="999.5" y="579.5" width="51" height="51" fill="#9b9b9b"/>
<rect x="1049.5" y="579.5" width="51" height="51" fill="#959595"/>
<rect x="1099.5" y="579.5" width="51" height="51" fill="#939393"/>
<rect x="1149.5" y="579.5" width="51" height="51" fill="#808080"/>
<rect x="1199.5" y="579.5" width="51" height="51" fill="#797979"/>
<rect x="1249.5" y="579.5" width="51" height="51" fill="#646464"/>
<rect x="1299.5" y="579.5" width="51" height="51" fill="#646464"/>
<rect x="1349.5" y="579.5" width="51" height="51" fill="#646464"/>
<rect x="1399.5" y="579.5" width="51" height="51" fill="#686868"/>
<rect x="1449.5" y="579.5" width="51" height="51" fill="#717171"/>
<rect x="1499.5" y="579.5" width="51" height="51" fill="#6b6b6b"/>
<rect x="549.5" y="629.5" width="51" height="51" fill="#969696"/>
<rect x="599.5" y="629.5" width="51" height="51" fill="#969696"/>
<rect x="649.5" y="629.5" width="51" height="51" fill="#979797"/>
<rect x="699.5" y="629.5" width="51" height="51" fill="#959595"/>
<rect x="749.5" y="629.5" width="51" height="51" fill="#939393"/>
<rect x="799.5" y="629.5" width="51" height="51" fill="#8f8f8f"/>
<rect x="849.5" y="629.5" width="51" height="51" fill="#878787"/>
<rect x="899.5" y="629.5" width="51" height="51" fill="#8f8f8f"/>
<rect x="949.5" y="629.5" width="51" height="51" fill="#939393"/>
<rect x="999.5" y="629.5" width="51" height="51" fill="#979797"/>
<rect x="1049.5" y="629.5" width="51" height="51" fill="#999999"/>
<rect x="1099.5" y="629.5" width="51" height="51" fill="#9f9f9f"/>
<rect x="1149.5" y="629.5" width="51" height="51" fill="#808080"/>
<rect x="1199.5" y="629.5" width="51" height="51" fill="#7f7f7f"/>
<rect x="1249.5" y="629.5" width="51" height="51" fill="#7e7e7e"/>
<rect x="1299.5" y="629.5" width="51" height="51" fill="#737373"/>
<rect x="1349.5" y="629.5" width="51" height="51" fill="#6a6a6a"/>
<rect x="1399.5" y="629.5" width="51" height="51" fill="#7d7d7d"/>
<rect x="1449.5" y="629.5" width="51" height="51" fill="#7c7c7c"/>
<rect x="1499.5" y="629.5" width="51" height="51" fill="#7c7c7c"/>
<rect x="549.5" y="679.5" width="51" height="51" fill="#939393"/>
<rect x="599.5" y="679.5" width="51" height="51" fill="#939393"/>
<rect x="649.5" y="679.5" width="51" height="51" fill="#949494"/>
<rect x="699.5" y="679.5" width="51" height="51" fill="#929292"/>
<rect x="749.5" y="679.5" width="51" height="51" fill="#8d8d8d"/>
<rect x="799.5" y="679.5" width="51" height="51" fill="#828282"/>
<rect x="849.5" y="679.5" width="51" height="51" fill="#808080"/>
<rect x="899.5" y="679.5" width="51" height="51" fill="#868686"/>
<rect x="949.5" y="679.5" width="51" height="51" fill="#8d8d8d"/>
<rect x="999.5" y="679.5" width="51" height="51" fill="#939393"/>
<rect x="1049.5" y="679.5" width="51" height="51" fill="#999999"/>
<rect x="1099.5" y="679.5" width="51" height="51" fill="#8c8c8c"/>
<rect x="1149.5" y="679.5" width="51" height="51" fill="#808080"/>
<rect x="1199.5" y="679.5" width="51" height="51" fill="#7f7f7f"/>
<rect x="1249.5" y="679.5" width="51" height="51" fill="#7f7f7f"/>
<rect x="1299.5" y="679.5" width="51" height="51" fill="#7a7a7a"/>
<rect x="1349.5" y="679.5" width="51" height="51" fill="#686868"/>
<rect x="1399.5" y="679.5" width="51" height="51" fill="#7b7b7b"/>
<rect x="1449.5" y="679.5" width="51" height="51" fill="#818181"/>
<rect x="1499.5" y="679.5" width="51" height="51" fill="#818181"/>
<rect x="549.5" y="729.5" width="51" height="51" fill="#8f8f8f"/>
<rect x="599.5" y="729.5" width="51" height="51" fill="#8f8f8f"/>
<rect x="649.5" y="729.5" width="51" height="51" fill="#939393"/>
<rect x="699.5" y="729.5" width="51" height="51" fill="#919191"/>
<rect x="749.5" y="729.5" width="51" height="51" fill="#8b8b8b"/>
<rect x="799.5" y="729.5" width="51" height="51" fill="#808080"/>
<rect x="849.5" y="729.5" width="51" height="51" fill="#7d7d7d"/>
<rect x="899.5" y="729.5" width="51" height="51" fill="#848484"/>
<rect x="949.5" y="729.5" width="51" height="51" fill="#8a8a8a"/>
<rect x="999.5" y="729.5" width="51" height="51" fill="#949494"/>
<rect x="1049.5" y="729.5" width="51" height="51" fill="#929292"/>
<rect x="1099.5" y="729.5" width="51" height="51" fill="#808080"/>
<rect x="1149.5" y="729.5" width="51" height="51" fill="#7f7f7f"/>
<rect x="1199.5" y="729.5" width="51" height="51" fill="#7e7e7e"/>
<rect x="1249.5" y="729.5" width="51" height="51" fill="#7c7c7c"/>
<rect x="1299.5" y="729.5" width="51" height="51" fill="#717171"/>
<rect x="1349.5" y="729.5" width="51" height="51" fill="#686868"/>
<rect x="1399.5" y="729.5" width="51" height="51" fill="#6a6a6a"/>
<rect x="1449.5" y="729.5" width="51" height="51" fill="#868686"/>
<rect x="1499.5" y="729.5" width="51" height="51" fill="#787878"/>
<rect x="1549.5" y="729.5" width="51" height="51" fill="#787878"/>
<rect x="549.5" y="779.5" width="51" height="51" fill="#878787"/>
<rect x="599.5" y="779.5" width="51" height="51" fill="#878787"/>
<rect x="649.5" y="779.5" width="51" height="51" fill="#8b8b8b"/>
<rect x="699.5" y="779.5" width="51" height="51" fill="#8d8d8d"/>
<rect x="749.5" y="779.5" width="51" height="51" fill="#808080"/>
<rect x="799.5" y="779.5" width="51" height="51" fill="#828282"/>
<rect x="849.5" y="779.5" width="51" height="51" fill="#808080"/>
<rect x="899.5" y="779.5" width="51" height="51" fill="#878787"/>
<rect x="949.5" y="779.5" width="51" height="51" fill="#888888"/>
<rect x="999.5" y="779.5" width="51" height="51" fill="#8b8b8b"/>
<rect x="1049.5" y="779.5" width="51" height="51" fill="#828282"/>
<rect x="1099.5" y="779.5" width="51" height="51" fill="#808080"/>
<rect x="1149.5" y="779.5" width="51" height="51" fill="#7d7d7d"/>
<rect x="1199.5" y="779.5" width="51" height="51" fill="#7a7a7a"/>
<rect x="1249.5" y="779.5" width="51" height="51" fill="#7f7f7f"/>
<rect x="1299.5" y="779.5" width="51" height="51" fill="#848484"/>
<rect x="1349.5" y="779.5" width="51" height="51" fill="#8a8a8a"/>
<rect x="1399.5" y="779.5" width="51" height="51" fill="#8c8c8c"/>
<rect x="1449.5" y="779.5" width="51" height="51" fill="#898989"/>
<rect x="1499.5" y="779.5" width="51" height="51" fill="#898989"/>
<rect x="549.5" y="829.5" width="51" height="51" fill="#8c8c8c"/>
<rect x="599.5" y="829.5" width="51" height="51" fill="#8c8c8c"/>
<rect x="649.5" y="829.5" width="51" height="51" fill="#848484"/>
<rect x="699.5" y="829.5" width="51" height="51" fill="#808080"/>
<rect x="749.5" y="829.5" width="51" height="51" fill="#808080"/>
<rect x="799.5" y="829.5" width="51" height="51" fill="#868686"/>
<rect x="849.5" y="829.5" width="51" height="51" fill="#878787"/>
<rect x="899.5" y="829.5" width="51" height="51" fill="#888888"/>
<rect x="949.5" y="829.5" width="51" height="51" fill="#878787"/>
<rect x="999.5" y="829.5" width="51" height="51" fill="#868686"/>
<rect x="1049.5" y="829.5" width="51" height="51" fill="#808080"/>
<rect x="1099.5" y="829.5" width="51" height="51" fill="#7f7f7f"/>
<rect x="1149.5" y="829.5" width="51" height="51" fill="#7a7a7a"/>
<rect x="1199.5" y="829.5" width="51" height="51" fill="#7a7a7a"/>
<rect x="1249.5" y="829.5" width="51" height="51" fill="#7f7f7f"/>
<rect x="1299.5" y="829.5" width="51" height="51" fill="#8a8a8a"/>
<rect x="1349.5" y="829.5" width="51" height="51" fill="#909090"/>
<rect x="1399.5" y="829.5" width="51" height="51" fill="#8e8e8e"/>
<rect x="1449.5" y="829.5" width="51" height="51" fill="#8e8e8e"/>
<rect x="499.5" y="879.5" width="51" height="51" fill="#9b9b9b"/>
<rect x="549.5" y="879.5" width="51" height="51" fill="#9b9b9b"/>
<rect x="599.5" y="879.5" width="51" height="51" fill="#959595"/>
<rect x="649.5" y="879.5" width="51" height="51" fill="#959595"/>
<rect x="699.5" y="879.5" width="51" height="51" fill="#939393"/>
<rect x="749.5" y="879.5" width="51" height="51" fill="#8e8e8e"/>
<rect x="799.5" y="879.5" width="51" height="51" fill="#909090"/>
<rect x="849.5" y="879.5" width="51" height="51" fill="#8c8c8c"/>
<rect x="899.5" y="879.5" width="51" height="51" fill="#999999"/>
<rect x="949.5" y="879.5" width="51" height="51" fill="#909090"/>
<rect x="999.5" y="879.5" width="51" height="51" fill="#7d7d7d"/>
<rect x="1049.5" y="879.5" width="51" height="51" fill="#777777"/>
<rect x="1099.5" y="879.5" width="51" height="51" fill="#737373"/>
<rect x="1149.5" y="879.5" width="51" height="51" fill="#757575"/>
<rect x="1199.5" y="879.5" width="51" height="51" fill="#7e7e7e"/>
<rect x="1249.5" y="879.5" width="51" height="51" fill="#7f7f7f"/>
<rect x="1299.5" y="879.5" width="51" height="51" fill="#8c8c8c"/>
<rect x="1349.5" y="879.5" width="51" height="51" fill="#999999"/>
<rect x="1399.5" y="879.5" width="51" height="51" fill="#959595"/>
<rect x="1449.5" y="879.5" width="51" height="51" fill="#939393"/>
<rect x="499.5" y="929.5" width="51" height="51" fill="#9b9b9b"/>
<rect x="549.5" y="929.5" width="51" height="51" fill="#9b9b9b"/>
<rect x="599.5" y="929.5" width="51" height="51" fill="#a2a2a2"/>
<rect x="649.5" y="929.5" width="51" height="51" fill="#9d9d9d"/>
<rect x="699.5" y="929.5" width="51" height="51" fill="#a2a2a2"/>
<rect x="749.5" y="929.5" width="51" height="51" fill="#a1a1a1"/>
<rect x="799.5" y="929.5" width="51" height="51" fill="#8b8b8b"/>
<rect x="849.5" y="929.5" width="51" height="51" fill="#949494"/>
<rect x="899.5" y="929.5" width="51" height="51" fill="#989898"/>
<rect x="949.5" y="929.5" width="51" height="51" fill="#8b8b8b"/>
<rect x="999.5" y="929.5" width="51" height="51" fill="#808080"/>
<rect x="1049.5" y="929.5" width="51" height="51" fill="#737373"/>
<rect x="1099.5" y="929.5" width="51" height="51" fill="#6e6e6e"/>
<rect x="1149.5" y="929.5" width="51" height="51" fill="#777777"/>
<rect x="1199.5" y="929.5" width="51" height="51" fill="#7b7b7b"/>
<rect x="1249.5" y="929.5" width="51" height="51" fill="#828282"/>
<rect x="1299.5" y="929.5" width="51" height="51" fill="#878787"/>
<rect x="1349.5" y="929.5" width="51" height="51" fill="#939393"/>
<rect x="1399.5" y="929.5" width="51" height="51" fill="#959595"/>
<rect x="549.5" y="979.5" width="51" height="51" fill="#9b9b9b"/>
<rect x="599.5" y="979.5" width="51" height="51" fill="#9f9f9f"/>
<rect x="649.5" y="979.5" width="51" height="51" fill="#a4a4a4"/>
<rect x="699.5" y="979.5" width="51" height="51" fill="#aaaaaa"/>
<rect x="749.5" y="979.5" width="51" height="51" fill="#a8a8a8"/>
<rect x="799.5" y="979.5" width="51" height="51" fill="#a2a2a2"/>
<rect x="849.5" y="979.5" width="51" height="51" fill="#888888"/>
<rect x="899.5" y="979.5" width="51" height="51" fill="#909090"/>
<rect x="949.5" y="979.5" width="51" height="51" fill="#909090"/>
<rect x="999.5" y="979.5" width="51" height="51" fill="#979797"/>
<rect x="1049.5" y="979.5" width="51" height="51" fill="#9d9d9d"/>
<rect x="1099.5" y="979.5" width="51" height="51" fill="#9d9d9d"/>
<rect x="1149.5" y="979.5" width="51" height="51" fill="#9d9d9d"/>
<rect x="1199.5" y="979.5" width="51" height="51" fill="#959595"/>
<rect x="1249.5" y="979.5" width="51" height="51" fill="#8b8b8b"/>
<rect x="1299.5" y="979.5" width="51" height="51" fill="#8b8b8b"/>
<rect x="1349.5" y="979.5" width="51" height="51" fill="#939393"/>
<rect x="599.5" y="1029.5" width="51" height="51" fill="#9f9f9f"/>
<rect x="649.5" y="1029.5" width="51" height="51" fill="#a9a9a9"/>
<rect x="699.5" y="1029.5" width="51" height="51" fill="#a9a9a9"/>
<rect x="749.5" y="1029.5" width="51" height="51" fill="#a8a8a8"/>
<rect x="799.5" y="1029.5" width="51" height="51" fill="#a2a2a2"/>
<rect x="849.5" y="1029.5" width="51" height="51" fill="#919191"/>
<rect x="899.5" y="1029.5" width="51" height="51" fill="#8c8c8c"/>
<rect x="949.5" y="1029.5" width="51" height="51" fill="#8e8e8e"/>
<rect x="999.5" y="1029.5" width="51" height="51" fill="#9a9a9a"/>
<rect x="1049.5" y="1029.5" width="51" height="51" fill="#9d9d9d"/>
<rect x="1099.5" y="1029.5" width="51" height="51" fill="#9d9d9d"/>
<rect x="1149.5" y="1029.5" width="51" height="51" fill="#999999"/>
<rect x="1199.5" y="1029.5" width="51" height="51" fill="#999999"/>
<rect x="1249.5" y="1029.5" width="51" height="51" fill="#8b8b8b"/>
<rect x="699.5" y="1079.5" width="51" height="51" fill="#9e9e9e"/>
<rect x="749.5" y="1079.5" width="51" height="51" fill="#9e9e9e"/>
<rect x="799.5" y="1079.5" width="51" height="51" fill="#959595"/>
<rect x="849.5" y="1079.5" width="51" height="51" fill="#939393"/>
<rect x="899.5" y="1079.5" width="51" height="51" fill="#8f8f8f"/>
<rect x="949.5" y="1079.5" width="51" height="51" fill="#8e8e8e"/>
<rect x="999.5" y="1079.5" width="51" height="51" fill="#929292"/>
<rect x="1049.5" y="1079.5" width="51" height="51" fill="#9d9d9d"/>
<rect x="1099.5" y="1079.5" width="51" height="51" fill="#9d9d9d"/>
<rect x="1149.5" y="1079.5" width="51" height="51" fill="#999999"/>
<rect x="1199.5" y="1079.5" width="51" height="51" fill="#999999"/>
</g>
<g filter="url(#b2)">
<path d="M1290.0,765.0 1255.0,800.0 1218.0,835.0" fill="none" stroke="#747474" stroke-width="50" stroke-linecap="round" stroke-linejoin="round"/>
<path d="M1236.0,808.0 1190.0,855.0" fill="none" stroke="#555555" stroke-width="58" stroke-linecap="round" stroke-linejoin="round"/>
<path d="M1182.0,864.0 1110.0,950.0 1070.0,982.0" fill="none" stroke="#5a5a5a" stroke-width="66" stroke-linecap="round" stroke-linejoin="round"/>
</g>
<g filter="url(#b3)">
<path d="M1058.0,1008.0 1110.0,1008.0 1160.0,1019.0 1215.0,1013.0" fill="none" stroke="#aaaaaa" stroke-width="30" stroke-linecap="round" stroke-linejoin="round"/>
<path d="M628.0,955.0 690.0,961.0 732.0,976.0 760.0,1003.0" fill="none" stroke="#aaaaaa" stroke-width="34" stroke-linecap="round" stroke-linejoin="round"/>
<ellipse cx="1114" cy="660" rx="13" ry="34" fill="#a0a0a0"/>
<ellipse cx="858" cy="1078" rx="12" ry="18" fill="#a7a7a7"/>
<path d="M1400.0,425.0 1432.0,428.0" fill="none" stroke="#8c8c8c" stroke-width="16" stroke-linecap="round" stroke-linejoin="round"/>
</g>
<g filter="url(#b4)">
<path d="M676.0,578.0 792.0,578.0 792.0,602.5 676.0,602.5Z" fill="#818181"/>
<path d="M792.0,592.0 812.0,572.0 880.0,566.0 942.0,582.0 942.0,602.5 792.0,602.5Z" fill="#666666"/>
<ellipse cx="1124" cy="937" rx="9" ry="6" fill="#313131"/>
<ellipse cx="1157" cy="950" rx="13" ry="5" fill="#404040"/>
<path d="M1066.0,977.0 1130.0,977.0" fill="none" stroke="#2a2a2a" stroke-width="5" stroke-linecap="round" stroke-linejoin="round"/>
<path d="M930.0,1052.0 960.0,1037.0 1000.0,1027.0 1060.0,1025.0" fill="none" stroke="#a5a5a5" stroke-width="9" stroke-linecap="round" stroke-linejoin="round"/>
<path d="M1062.0,999.0 1110.0,1001.0" fill="none" stroke="#c6c6c6" stroke-width="7" stroke-linecap="round" stroke-linejoin="round"/>
<path d="M1112.0,1014.0 1162.0,1022.0" fill="none" stroke="#cacaca" stroke-width="12" stroke-linecap="round" stroke-linejoin="round"/>
<path d="M1180.0,1013.0 1208.0,1014.0" fill="none" stroke="#cecece" stroke-width="9" stroke-linecap="round" stroke-linejoin="round"/>
<path d="M632.0,961.0 658.0,965.0" fill="none" stroke="#bbbbbb" stroke-width="10" stroke-linecap="round" stroke-linejoin="round"/>
<path d="M702.0,958.0 735.0,973.0" fill="none" stroke="#bdbdbd" stroke-width="14" stroke-linecap="round" stroke-linejoin="round"/>
<path d="M826.0,1048.0 827.0,1080.0" fill="none" stroke="#808080" stroke-width="10" stroke-linecap="round" stroke-linejoin="round"/>
<path d="M830.0,1090.0 833.0,1110.0" fill="none" stroke="#646464" stroke-width="20" stroke-linecap="round" stroke-linejoin="round"/>
<ellipse cx="830" cy="1106" rx="11" ry="8" fill="#5e5e5e"/>
<path d="M1307.0,342.0 1470.0,343.0" fill="none" stroke="#8a8a8a" stroke-width="7" stroke-linecap="round" stroke-linejoin="round"/>
<path d="M1312.0,385.0 1378.0,386.0" fill="none" stroke="#8b8b8b" stroke-width="12" stroke-linecap="round" stroke-linejoin="round"/>
<path d="M1368.0,422.0 1463.0,423.0" fill="none" stroke="#8b8b8b" stroke-width="10" stroke-linecap="round" stroke-linejoin="round"/>
<path d="M1335.5,254.0 1373.0,267.0 1378.0,281.0 1402.0,291.0 1444.0,293.0 1454.0,298.0 1496.0,293.0 1515.0,307.0 1548.0,319.0 1562.0,312.0" fill="none" stroke="#454545" stroke-width="15" stroke-linecap="round" stroke-linejoin="round"/>
<path d="M1560.0,300.0 1567.0,281.0 1610.0,295.0" fill="none" stroke="#484848" stroke-width="14" stroke-linecap="round" stroke-linejoin="round"/>
</g>
<g>
<path d="M1628.0,317.0 1643.0,317.0" fill="none" stroke="#2a2a2a" stroke-width="6" stroke-linecap="round" stroke-linejoin="round"/>
<path d="M1676.0,326.0 1695.0,328.5" fill="none" stroke="#262626" stroke-width="6" stroke-linecap="round" stroke-linejoin="round"/>
<path d="M1335.5,254.0 1373.0,267.0 1378.0,281.0 1402.0,291.0 1444.0,293.0 1454.0,298.0 1496.0,293.0 1515.0,307.0 1548.0,319.0 1562.0,312.0" fill="none" stroke="#080808" stroke-width="6" stroke-dasharray="9 7"/>
<path d="M1590.0,287.0 1608.0,293.0" fill="none" stroke="#151515" stroke-width="6" stroke-dasharray="8 6"/>
<path d="M1340.0,259.0 1376.0,273.0 1381.0,287.0 1404.0,297.0 1446.0,299.0 1456.0,304.0 1498.0,299.0 1517.0,313.0 1550.0,325.0" fill="none" stroke="#000000" stroke-width="6" stroke-dasharray="11 27"/>
</g>
</g></g>
<rect x="398.6" y="126.6" width="1441.5" height="1081.8000000000002" fill="none" stroke="#262626" stroke-width="4.8"/>
<path d="M564.7,126.6v16.6M564.7,1208.4v-16.6M786.5,126.6v16.6M786.5,1208.4v-16.6M1008.2,126.6v16.6M1008.2,1208.4v-16.6M1230,126.6v16.6M1230,1208.4v-16.6M1451.7,126.6v16.6M1451.7,1208.4v-16.6M1673.5,126.6v16.6M1673.5,1208.4v-16.6M398.6,374.8h16.6M1840.1,374.8h-16.6M398.6,623.5h16.6M1840.1,623.5h-16.6M398.6,872.1h16.6M1840.1,872.1h-16.6M398.6,1120.8h16.6M1840.1,1120.8h-16.6" stroke="#262626" stroke-width="4.6" fill="none"/>
<text transform="translate(941.83 99.80)" style="font-size:103.8px;font-weight:bold;fill:#000">Annual</text>
<text transform="translate(134.24 162.20) scale(0.9866 1.0000)" style="font-size:94px;">44</text>
<text transform="translate(237.18 129.20) scale(1.0016 1.0000)" style="font-size:65px;">o</text>
<text transform="translate(298.00 162.20) scale(0.9957 1.0000)" style="font-size:94px;">N</text>
<text transform="translate(134.22 659.70) scale(0.9959 1.0000)" style="font-size:94px;">40</text>
<text transform="translate(237.18 626.70) scale(1.0016 1.0000)" style="font-size:65px;">o</text>
<text transform="translate(298.00 659.70) scale(0.9957 1.0000)" style="font-size:94px;">N</text>
<text transform="translate(135.17 1157.20) scale(0.9927 1.0000)" style="font-size:94px;">36</text>
<text transform="translate(237.18 1124.20) scale(1.0016 1.0000)" style="font-size:65px;">o</text>
<text transform="translate(298.00 1157.20) scale(0.9957 1.0000)" style="font-size:94px;">N</text>
<text transform="translate(463.93 1333.30)" style="font-size:94px;">8</text>
<text transform="translate(514.08 1300.30) scale(1.0475 1.0000)" style="font-size:65px;">o</text>
<text transform="translate(579.51 1333.30) scale(0.9438 1.0000)" style="font-size:94px;">W</text>
<text transform="translate(906.61 1333.30)" style="font-size:94px;">4</text>
<text transform="translate(956.76 1300.30) scale(1.0475 1.0000)" style="font-size:65px;">o</text>
<text transform="translate(1022.21 1333.30) scale(0.9426 1.0000)" style="font-size:94px;">W</text>
<text transform="translate(1364.14 1333.30)" style="font-size:94px;">0</text>
<text transform="translate(1414.29 1300.30) scale(1.0475 1.0000)" style="font-size:65px;">o</text>
<text transform="translate(1474.81 1333.30)" style="font-size:94px;">E</text>
<text transform="translate(892.10 1465.00) scale(1.0005 1.0200)" style="font-size:103.1px;">Longitude</text>
<text transform="translate(92.2 849.02) rotate(-90) scale(1 1.02)" style="font-size:102.3px">Latitude</text>
<rect x="405.6" y="1542.0" width="1429.1" height="106.20000000000005" fill="url(#jet)"/>
<rect x="407" y="1542.0" width="1.6" height="106.20000000000005" fill="#8a8a8a"/>
<rect x="408.6" y="1542.0" width="3.6" height="106.20000000000005" fill="#fff"/>
<rect x="407" y="1543.2" width="1426" height="2.7" fill="#262626" opacity="0.6"/>
<rect x="405.6" y="1542.0" width="1429.1" height="106.20000000000005" fill="none" stroke="#262626" stroke-width="3.3"/>
<path d="M762.8,1648.2v-15.5M1120.2,1648.2v-15.5M1477.4,1648.2v-15.5" stroke="#262626" stroke-width="3.4" fill="none"/>
<text x="405.4" y="1774.6" text-anchor="middle" style="font-size:94.5px">0</text>
<text x="762.1" y="1774.6" text-anchor="middle" style="font-size:94.5px">200</text>
<text x="1119.3" y="1774.6" text-anchor="middle" style="font-size:94.5px">400</text>
<text x="1476.2" y="1774.6" text-anchor="middle" style="font-size:94.5px">600</text>
<text x="1833.8" y="1774.6" text-anchor="middle" style="font-size:94.5px">800</text>
<text transform="translate(720.90 1922.60)" style="font-size:94.3px;">PAR</text>
<text transform="translate(940.65 1922.60) scale(0.8544 1.0000)" style="font-size:98.5px;font-family:'Liberation Serif','DejaVu Serif',serif">(</text>
<text transform="translate(972.00 1922.60) scale(1.2412 1.0000)" style="font-size:91.5px;font-family:'Liberation Serif','DejaVu Serif',serif;font-style:italic;stroke:#fff;stroke-width:0.9px;paint-order:fill stroke">μ</text>
<text transform="translate(1025.72 1922.60) scale(0.9982 1.0000)" style="font-size:94.3px;">mol</text>
<text transform="translate(1202.90 1922.60) scale(1.0029 1.0000)" style="font-size:94.3px;">m</text>
<text transform="translate(1279.63 1876.80) scale(1.0157 1.0000)" style="font-size:76.5px;">-2</text>
<text transform="translate(1374.08 1922.60) scale(0.9985 1.0000)" style="font-size:94.3px;">s</text>
<text transform="translate(1419.64 1876.80) scale(0.8614 1.0000)" style="font-size:76.5px;">-1</text>
<text transform="translate(1492.04 1922.60) scale(0.8702 1.0000)" style="font-size:98.5px;font-family:'Liberation Serif','DejaVu Serif',serif">)</text>
</svg></body></html>
